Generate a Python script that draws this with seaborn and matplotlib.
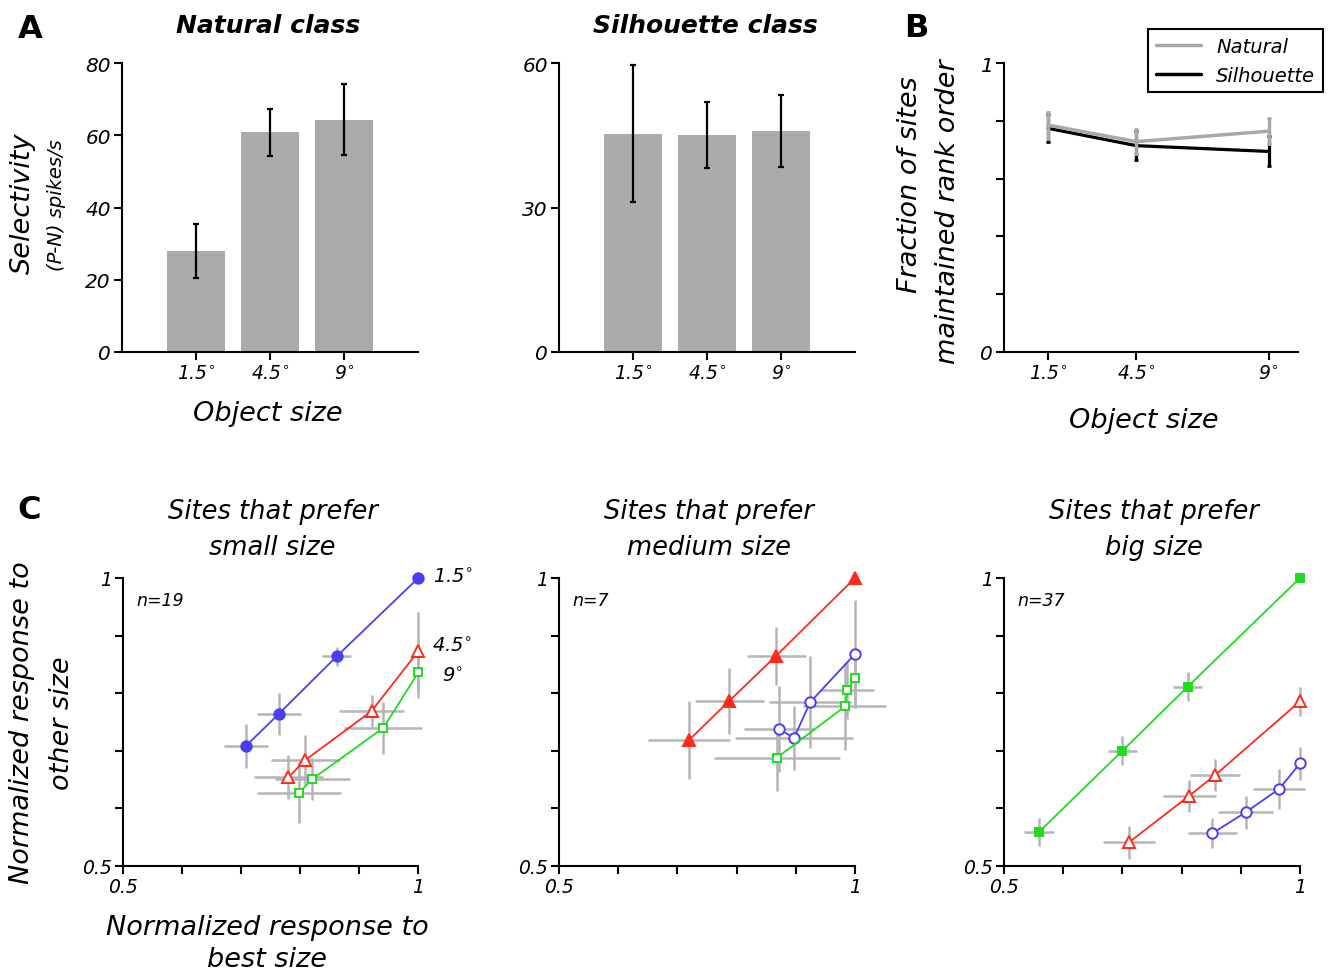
import numpy as np
import pandas as pd
import matplotlib
matplotlib.use("Agg")
import matplotlib.pyplot as plt
from matplotlib.lines import Line2D
import seaborn as sns

# ---------------- values ----------------
size_labels = ["1.5$^{\\circ}$", "4.5$^{\\circ}$", "9$^{\\circ}$"]
size_deg = [1.5, 4.5, 9.0]

# A: selectivity (P-N), spikes/s
natural_sel = [28.0, 60.8, 64.3]
natural_sel_err = [7.5, 6.5, 9.8]
silhouette_sel = [45.3, 45.1, 45.9]
silhouette_sel_err = [14.2, 6.9, 7.5]

# B: fraction of sites that kept rank order
natural_frac = [0.785, 0.728, 0.764]
natural_frac_err = [0.047, 0.044, 0.046]
silhouette_frac = [0.774, 0.714, 0.694]
silhouette_frac_err = [0.049, 0.049, 0.052]

# C: normalized response to other size vs. best size
# sites that prefer small size (n=19)
small_15_x = [0.708, 0.764, 0.862, 1.0]
small_15_y = [0.708, 0.764, 0.864, 1.0]
small_15_xerr = [0.037, 0.037, 0.025, 0.0]
small_15_yerr = [0.038, 0.036, 0.017, 0.0]
small_45_x = [0.780, 0.809, 0.921, 1.0]
small_45_y = [0.654, 0.684, 0.769, 0.873]
small_45_xerr = [0.058, 0.059, 0.055, 0.0]
small_45_yerr = [0.038, 0.044, 0.028, 0.068]
small_9_x = [0.798, 0.821, 0.941, 1.0]
small_9_y = [0.627, 0.651, 0.740, 0.836]
small_9_xerr = [0.071, 0.064, 0.066, 0.0]
small_9_yerr = [0.053, 0.037, 0.045, 0.045]

# sites that prefer medium size (n=7)
medium_15_x = [0.872, 0.897, 0.924, 1.0]
medium_15_y = [0.738, 0.722, 0.784, 0.868]
medium_15_xerr = [0.060, 0.100, 0.070, 0.0]
medium_15_yerr = [0.075, 0.056, 0.080, 0.094]
medium_45_x = [0.720, 0.788, 0.867, 1.0]
medium_45_y = [0.719, 0.787, 0.865, 1.0]
medium_45_xerr = [0.069, 0.058, 0.050, 0.0]
medium_45_yerr = [0.068, 0.057, 0.050, 0.0]
medium_9_x = [0.868, 0.983, 0.987, 1.0]
medium_9_y = [0.688, 0.777, 0.805, 0.826]
medium_9_xerr = [0.106, 0.070, 0.045, 0.0]
medium_9_yerr = [0.058, 0.076, 0.050, 0.050]

# sites that prefer big size (n=37)
big_15_x = [0.852, 0.908, 0.965, 1.0]
big_15_y = [0.557, 0.593, 0.634, 0.678]
big_15_xerr = [0.041, 0.046, 0.044, 0.0]
big_15_yerr = [0.026, 0.028, 0.035, 0.028]
big_45_x = [0.711, 0.813, 0.857, 1.0]
big_45_y = [0.541, 0.622, 0.658, 0.786]
big_45_xerr = [0.044, 0.045, 0.042, 0.0]
big_45_yerr = [0.028, 0.028, 0.028, 0.025]
big_9_x = [0.559, 0.700, 0.810, 1.0]
big_9_y = [0.559, 0.700, 0.811, 1.0]
big_9_xerr = [0.025, 0.024, 0.025, 0.0]
big_9_yerr = [0.025, 0.025, 0.025, 0.0]

# ---------------- styling ----------------
sns.set_style("ticks")
plt.rcParams["font.family"] = ["DejaVu Sans"]
plt.rcParams["mathtext.fontset"] = "dejavusans"
for k in ["text.color", "axes.labelcolor", "xtick.color", "ytick.color", "axes.edgecolor"]:
    plt.rcParams[k] = "black"

W, H = 1330, 978
fig = plt.figure(figsize=(W / 100, H / 100), dpi=100)


def px(x, y):
    return x / W, 1 - y / H


def rect(left, top, right, bottom):
    return [left / W, 1 - bottom / H, (right - left) / W, (bottom - top) / H]


def style_axis(ax):
    sns.despine(ax=ax)
    for s in ["left", "bottom"]:
        ax.spines[s].set_linewidth(1.5)
        ax.spines[s].set_color("black")
    ax.tick_params(direction="out", length=6, width=1.5, labelsize=13.5, pad=2,
                   color="black", labelcolor="black")


def italic_ticks(ax):
    for lab in ax.get_xticklabels() + ax.get_yticklabels():
        lab.set_fontstyle("italic")


BAR_GRAY = "#ababab"
ERR_GRAY = "#b5b5b5"
BLUE, RED, GREEN = "#4a3df2", "#ff2a1a", "#1edc1e"
STYLE = {"1.5": (BLUE, "o", 7.5), "4.5": (RED, "^", 8.5), "9": (GREEN, "s", 5.5)}

# ---------------- A: bar panels ----------------
bar_panels = [
    (rect(122, 64, 418, 353), natural_sel, natural_sel_err, [0, 20, 40, 60, 80]),
    (rect(559, 64, 855, 353), silhouette_sel, silhouette_sel_err, [0, 30, 60]),
]
for r, vals, errs, yt in bar_panels:
    ax = fig.add_axes(r)
    df = pd.DataFrame({"size": size_labels, "value": vals})
    sns.barplot(data=df, x="size", y="value", color=BAR_GRAY, saturation=1,
                width=0.78, errorbar=None, linewidth=0, ax=ax)
    ax.errorbar(range(len(vals)), vals, yerr=errs, fmt="none", ecolor="black",
                elinewidth=1.6, capsize=2.5, capthick=1.6, zorder=4)
    ax.set_xlim(-1, 3)
    ax.set_ylim(0, yt[-1])
    ax.set_yticks(yt)
    ax.set_xlabel("")
    ax.set_ylabel("")
    style_axis(ax)
    ax.tick_params(axis="y", labelsize=14.5)
    italic_ticks(ax)

fig.text(*px(268, 33), "Natural class", ha="center", va="baseline",
         fontsize=18, fontweight="bold", fontstyle="italic")
fig.text(*px(705, 33), "Silhouette class", ha="center", va="baseline",
         fontsize=18, fontweight="bold", fontstyle="italic")
fig.text(*px(23, 203), "Selectivity", rotation=90, ha="center", va="center",
         fontsize=19.5, fontstyle="italic")
fig.text(*px(57, 205), "(P-N) spikes/s", rotation=90, ha="center", va="center",
         fontsize=14, fontstyle="italic")
fig.text(*px(268, 421), "Object size", ha="center", va="baseline",
         fontsize=19.5, fontstyle="italic")

# ---------------- B: rank order ----------------
axb = fig.add_axes(rect(1004, 64, 1298, 353))
sns.lineplot(x=size_deg, y=silhouette_frac, color="black", lw=2.3, ax=axb)
axb.errorbar(size_deg, silhouette_frac, yerr=silhouette_frac_err, fmt="none",
             ecolor="black", elinewidth=2.3, capsize=1.5, capthick=2)
sns.lineplot(x=size_deg, y=natural_frac, color="#a8a8a8", lw=2.5, ax=axb)
axb.errorbar(size_deg, natural_frac, yerr=natural_frac_err, fmt="none",
             ecolor="#a8a8a8", elinewidth=2.5, capsize=1.5, capthick=2)
axb.set_xlim(0, 10)
axb.set_ylim(0, 1)
axb.set_xticks(size_deg)
axb.set_xticklabels(size_labels)
axb.set_yticks([0, 0.2, 0.4, 0.6, 0.8, 1.0])
axb.set_yticklabels(["0", "", "", "", "", "1"])
style_axis(axb)
axb.tick_params(axis="y", labelsize=14.5)
italic_ticks(axb)
handles = [Line2D([], [], color="#a8a8a8", lw=2.5), Line2D([], [], color="black", lw=2.5)]
leg = axb.legend(handles, ["Natural", "Silhouette"], loc="upper right",
                 bbox_to_anchor=px(1323, 30), bbox_transform=fig.transFigure,
                 borderaxespad=0, fancybox=False, edgecolor="black", framealpha=1,
                 handlelength=2.3, prop={"style": "italic", "size": 14})
leg.get_frame().set_linewidth(1.5)

fig.text(*px(910, 185), "Fraction of sites", rotation=90, ha="center", va="center",
         fontsize=19.5, fontstyle="italic")
fig.text(*px(948, 212), "maintained rank order", rotation=90, ha="center", va="center",
         fontsize=19.5, fontstyle="italic")
fig.text(*px(1144, 428), "Object size", ha="center", va="baseline",
         fontsize=19.5, fontstyle="italic")

# ---------------- C: normalized responses ----------------
c_panels = [
    (rect(122.7, 579, 418.3, 867), "small size", "n=19", "1.5",
     [("1.5", small_15_x, small_15_y, small_15_xerr, small_15_yerr),
      ("4.5", small_45_x, small_45_y, small_45_xerr, small_45_yerr),
      ("9", small_9_x, small_9_y, small_9_xerr, small_9_yerr)]),
    (rect(559, 579, 855, 867), "medium size", "n=7", "4.5",
     [("1.5", medium_15_x, medium_15_y, medium_15_xerr, medium_15_yerr),
      ("4.5", medium_45_x, medium_45_y, medium_45_xerr, medium_45_yerr),
      ("9", medium_9_x, medium_9_y, medium_9_xerr, medium_9_yerr)]),
    (rect(1004, 579, 1300, 867), "big size", "n=37", "9",
     [("1.5", big_15_x, big_15_y, big_15_xerr, big_15_yerr),
      ("4.5", big_45_x, big_45_y, big_45_xerr, big_45_yerr),
      ("9", big_9_x, big_9_y, big_9_xerr, big_9_yerr)]),
]
ticks = [0.5, 0.6, 0.7, 0.8, 0.9, 1.0]
tick_labels = ["0.5", "", "", "", "", "1"]
for r, pref, ntext, best, series in c_panels:
    ax = fig.add_axes(r)
    for size, x, y, xe, ye in series:
        ax.errorbar(x, y, xerr=xe, yerr=ye, fmt="none", ecolor=ERR_GRAY,
                    elinewidth=1.8, zorder=1, clip_on=False)
    for size, x, y, xe, ye in series:
        color, marker, ms = STYLE[size]
        face = color if size == best else "white"
        sns.lineplot(x=x, y=y, sort=False, estimator=None, color=color, lw=1.3,
                     marker=marker, markersize=ms, markerfacecolor=face,
                     markeredgecolor=color, markeredgewidth=1.4, clip_on=False,
                     zorder=3, ax=ax)
    ax.set_xlim(0.5, 1.0)
    ax.set_ylim(0.5, 1.0)
    ax.set_xticks(ticks)
    ax.set_xticklabels(tick_labels)
    ax.set_yticks(ticks)
    ax.set_yticklabels(tick_labels)
    style_axis(ax)
    italic_ticks(ax)
    # title and n
    x0, y0, w, h = r
    cx = (x0 + w / 2) * W
    fig.text(*px(cx + 2, 519), "Sites that prefer", ha="center", va="baseline",
             fontsize=18.5, fontstyle="italic")
    fig.text(*px(cx + 2, 555), pref, ha="center", va="baseline",
             fontsize=18.5, fontstyle="italic")
    ax.text(0.045, 0.955, ntext, transform=ax.transAxes, ha="left", va="top",
            fontsize=12.5, fontstyle="italic")

# size labels at the right of first C panel
fig.text(*px(433, 583), "1.5$^{\\circ}$", ha="left", va="baseline", fontsize=14, fontstyle="italic")
fig.text(*px(432, 652), "4.5$^{\\circ}$", ha="left", va="baseline", fontsize=14, fontstyle="italic")
fig.text(*px(442, 682), "9$^{\\circ}$", ha="left", va="baseline", fontsize=14, fontstyle="italic")

fig.text(*px(22, 723), "Normalized response to", rotation=90, ha="center", va="center",
         fontsize=19.5, fontstyle="italic")
fig.text(*px(62, 723), "other size", rotation=90, ha="center", va="center",
         fontsize=19.5, fontstyle="italic")
fig.text(*px(267, 935), "Normalized response to", ha="center", va="baseline",
         fontsize=19.5, fontstyle="italic")
fig.text(*px(267, 967), "best size", ha="center", va="baseline",
         fontsize=19.5, fontstyle="italic")

# panel letters
for letter, (lx, ly) in {"A": (30, 38), "B": (916, 37), "C": (29, 519)}.items():
    fig.text(*px(lx, ly), letter, ha="center", va="baseline", fontsize=23, fontweight="bold")

fig.savefig("out.png", dpi=100)
